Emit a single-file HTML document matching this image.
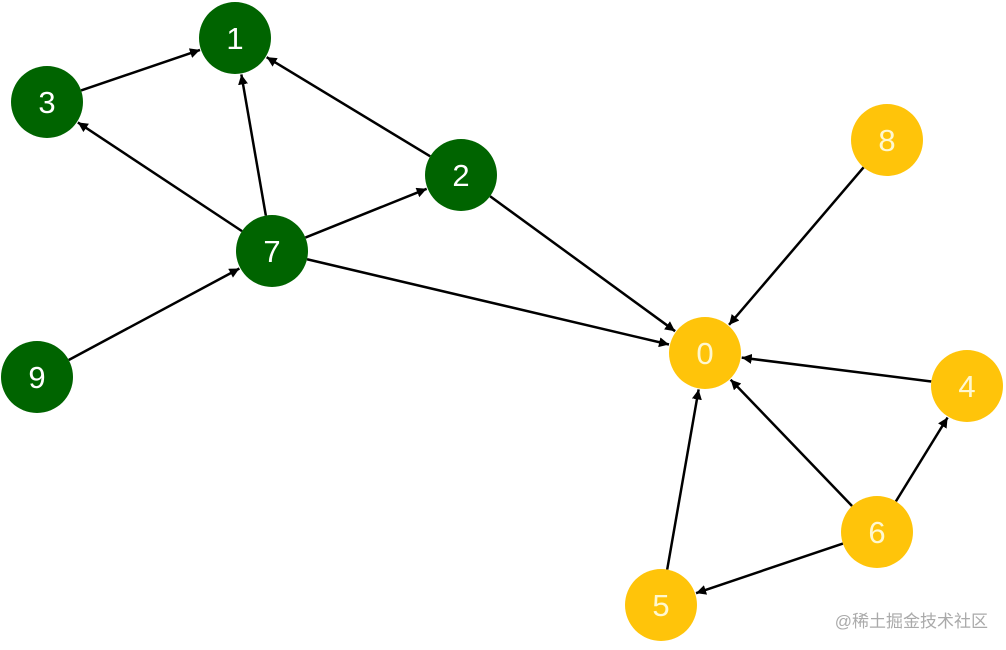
<!DOCTYPE html>
<html><head><meta charset="utf-8"><style>
html,body{margin:0;padding:0;background:#fff;width:1006px;height:650px;overflow:hidden}
svg{display:block}
</style></head><body>
<svg id="s" width="1006" height="650" xmlns="http://www.w3.org/2000/svg">
<defs><marker id="a" viewBox="0 0 10 10" refX="10" refY="5" markerWidth="10" markerHeight="10" markerUnits="userSpaceOnUse" orient="auto"><path d="M0,0 L10,5 L0,10 z" fill="#000"/></marker></defs>
<g id="e"></g><g id="n"></g>
<text x="988" y="627" text-anchor="end" font-family="Liberation Sans, Noto Sans CJK SC, sans-serif" font-size="17" fill="#aaa">@稀土掘金技术社区</text>
</svg>
<script>
var N={1:[235,38,'g'],3:[47,102,'g'],2:[461,175,'g'],7:[272,251,'g'],9:[37,377,'g'],8:[887,140,'y'],0:[705,353,'y'],4:[967,386,'y'],6:[877,532,'y'],5:[661,605,'y']};
var E=[[3,1],[2,1],[7,1],[7,3],[7,2],[9,7],[2,0],[7,0],[8,0],[4,0],[6,0],[5,0],[6,4],[6,5]];
var R=36,ns="http://www.w3.org/2000/svg",eg=document.getElementById('e'),ng=document.getElementById('n');
E.forEach(function(p){var a=N[p[0]],b=N[p[1]],dx=b[0]-a[0],dy=b[1]-a[1],d=Math.hypot(dx,dy),ux=dx/d,uy=dy/d;
var l=document.createElementNS(ns,'line');l.setAttribute('x1',a[0]+ux*R);l.setAttribute('y1',a[1]+uy*R);l.setAttribute('x2',b[0]-ux*(R+1));l.setAttribute('y2',b[1]-uy*(R+1));
l.setAttribute('stroke','#000');l.setAttribute('stroke-width','2.5');l.setAttribute('marker-end','url(#a)');eg.appendChild(l);});
for(var k in N){var v=N[k];var c=document.createElementNS(ns,'circle');c.setAttribute('cx',v[0]);c.setAttribute('cy',v[1]);c.setAttribute('r',R);c.setAttribute('fill',v[2]=='g'?'#006400':'#FFC40A');ng.appendChild(c);
var t=document.createElementNS(ns,'text');t.setAttribute('x',v[0]);t.setAttribute('y',v[1]+11);t.setAttribute('text-anchor','middle');t.setAttribute('font-family','Liberation Sans, DejaVu Sans, sans-serif');t.setAttribute('font-size','31');t.setAttribute('fill',v[2]=='g'?'#fff':'#FFF8D0');t.textContent=k;ng.appendChild(t);}
</script>
</body></html>
